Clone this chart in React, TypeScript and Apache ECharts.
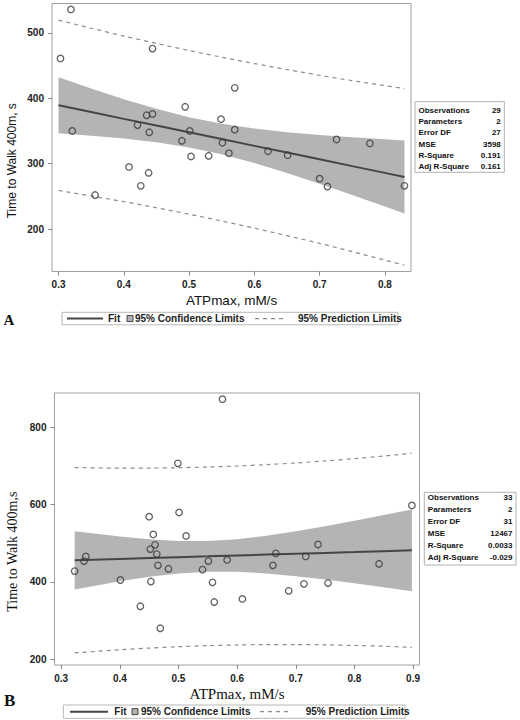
import React, { useEffect, useRef } from "react";
import * as echarts from "echarts";

// ---------- Panel A data ----------
const xTicksA = [0.3, 0.4, 0.5, 0.6, 0.7, 0.8];
const yTicksA = [200, 300, 400, 500];
const atpA = [0.319, 0.303, 0.444, 0.321, 0.421, 0.435, 0.444, 0.439, 0.494, 0.501, 0.489, 0.503, 0.53, 0.549, 0.551, 0.561, 0.57, 0.57, 0.408, 0.438, 0.426, 0.356, 0.726, 0.777, 0.621, 0.651, 0.7, 0.712, 0.83];
const walkA = [536, 461, 476, 350, 359, 374, 376, 348, 387, 350, 335, 311, 312, 368, 332, 316, 416, 352, 295, 286, 266, 252, 337, 331, 319, 313, 277, 265, 266];
const bandXA = [0.3, 0.35, 0.4, 0.45, 0.5, 0.55, 0.6, 0.65, 0.7, 0.75, 0.8, 0.83];
const fitA = [389.2, 378.9, 368.5, 358.2, 347.9, 337.6, 327.2, 316.9, 306.6, 296.2, 285.9, 279.7];
const clUpA = [432.0, 415.0, 398.7, 383.8, 371.0, 361.0, 353.6, 348.2, 344.0, 340.4, 337.3, 335.5];
const clLoA = [346.4, 342.8, 338.3, 332.6, 324.8, 314.2, 300.8, 285.6, 269.2, 252.0, 234.5, 223.9];
const plUpA = [519.5, 507.2, 495.2, 483.9, 473.1, 462.9, 453.1, 443.9, 435.2, 427.0, 419.3, 414.9];
const plLoA = [258.9, 250.6, 241.8, 232.5, 222.7, 212.3, 201.3, 189.9, 178.0, 165.4, 152.5, 144.5];
const statLabelsA = ["Observations", "Parameters", "Error DF", "MSE", "R-Square", "Adj R-Square"];
const statValuesA = ["29", "2", "27", "3598", "0.191", "0.161"];

// ---------- Panel B data ----------
const xTicksB = [0.3, 0.4, 0.5, 0.6, 0.7, 0.8, 0.9];
const yTicksB = [200, 400, 600, 800];
const atpB = [0.575, 0.499, 0.45, 0.501, 0.457, 0.513, 0.46, 0.452, 0.463, 0.342, 0.339, 0.323, 0.465, 0.483, 0.541, 0.551, 0.583, 0.401, 0.453, 0.558, 0.561, 0.609, 0.435, 0.469, 0.898, 0.738, 0.666, 0.717, 0.661, 0.842, 0.714, 0.755, 0.688];
const walkB = [873, 707, 569, 580, 523, 519, 496, 485, 472, 466, 454, 428, 443, 434, 432, 454, 457, 405, 401, 399, 348, 356, 337, 280, 598, 497, 474, 466, 443, 447, 395, 397, 377];
const bandXB = [0.323, 0.4, 0.45, 0.5, 0.55, 0.6, 0.65, 0.7, 0.75, 0.8, 0.85, 0.898];
const fitB = [456.1, 459.5, 461.8, 464.0, 466.2, 468.5, 470.7, 472.9, 475.2, 477.4, 479.7, 481.8];
const clUpB = [531.5, 517.5, 510.4, 506.1, 505.8, 510.6, 519.3, 530.9, 544.1, 558.3, 573.1, 587.7];
const clLoB = [380.7, 401.5, 413.2, 421.9, 426.6, 426.4, 422.1, 414.9, 406.3, 396.5, 386.3, 375.9];
const plUpB = [696.0, 694.5, 694.7, 695.6, 697.4, 700.1, 703.6, 707.9, 713.2, 719.1, 725.9, 733.0];
const plLoB = [216.2, 224.5, 228.9, 232.4, 235.0, 236.9, 237.8, 237.9, 237.2, 235.7, 233.5, 230.6];
const statLabelsB = ["Observations", "Parameters", "Error DF", "MSE", "R-Square", "Adj R-Square"];
const statValuesB = ["33", "2", "31", "12467", "0.0033", "-0.029"];

const legendLabels = ["Fit", "95% Confidence Limits", "95% Prediction Limits"];

const SANS = "Liberation Sans, Arial, Helvetica, sans-serif";
const SERIF = "Liberation Serif, Times New Roman, serif";
const BAND = "#b4b4b4";
const FIT = "#454545";
const PL = "#8c8c8c";

function pairs(xs: number[], ys: number[]) {
  return xs.map((x, i) => [x, ys[i]]);
}

function App() {
  const ref = useRef<HTMLDivElement>(null);

  useEffect(() => {
    if (!ref.current) return;
    const chart = echarts.init(ref.current, null, { renderer: "svg" });

    const xAxisBase = (gridIndex: number, min: number, max: number, ticks: number[], name: string, serif: boolean, nameGap: number) => ({
      type: "value",
      gridIndex,
      min,
      max,
      name,
      nameLocation: "middle",
      nameGap,
      nameTextStyle: { fontFamily: serif ? SERIF : SANS, fontSize: serif ? 15 : 13.5, color: "#111" },
      axisLine: { show: false },
      axisTick: { show: true, length: 4, inside: false, customValues: ticks, lineStyle: { color: "#888" } },
      axisLabel: { customValues: ticks, margin: 8, fontFamily: SANS, fontWeight: "bold", fontSize: 10, color: "#222", formatter: (v: number) => v.toFixed(1) },
      splitLine: { show: false },
    });
    const yAxisBase = (gridIndex: number, min: number, max: number, ticks: number[]) => ({
      type: "value",
      gridIndex,
      min,
      max,
      axisLine: { show: false },
      axisTick: { show: true, length: 4, inside: false, customValues: ticks, lineStyle: { color: "#888" } },
      axisLabel: { customValues: ticks, margin: 8, fontFamily: SANS, fontWeight: "bold", fontSize: 10, color: "#222" },
      splitLine: { show: false },
    });

    const bandSeries = (idx: number, xs: number[], lo: number[], up: number[]) => ({
      type: "custom",
      xAxisIndex: idx,
      yAxisIndex: idx,
      data: [[xs[0], lo[0]]],
      encode: { x: 0, y: 1 },
      silent: true,
      z: 1,
      renderItem: (_params: any, api: any) => {
        const pts: number[][] = [];
        for (let i = 0; i < xs.length; i++) pts.push(api.coord([xs[i], up[i]]));
        for (let i = xs.length - 1; i >= 0; i--) pts.push(api.coord([xs[i], lo[i]]));
        return { type: "polygon", shape: { points: pts }, style: { fill: BAND, stroke: "none" } };
      },
    });
    const dashed = (idx: number, xs: number[], ys: number[]) => ({
      type: "line",
      xAxisIndex: idx,
      yAxisIndex: idx,
      data: pairs(xs, ys),
      symbol: "none",
      smooth: 0.3,
      lineStyle: { color: PL, width: 1.2, type: [4, 4] },
      z: 2,
    });
    const fitLine = (idx: number, xs: number[], ys: number[]) => ({
      type: "line",
      xAxisIndex: idx,
      yAxisIndex: idx,
      data: pairs(xs, ys),
      symbol: "none",
      lineStyle: { color: FIT, width: 2 },
      z: 3,
    });
    const scatter = (idx: number, xs: number[], ys: number[]) => ({
      type: "scatter",
      xAxisIndex: idx,
      yAxisIndex: idx,
      data: pairs(xs, ys),
      symbol: "circle",
      symbolSize: 6.5,
      itemStyle: { color: "rgba(0,0,0,0)", borderColor: "#3a3a3a", borderWidth: 1.3 },
      z: 4,
    });

    const statBox = (x0: number, y0: number, w: number, h: number, y1: number, step: number, labels: string[], values: string[]) => {
      const els: any[] = [
        { type: "rect", shape: { x: x0, y: y0, width: w, height: h }, style: { fill: "#fff", stroke: "#b0b0b0", lineWidth: 1 } },
      ];
      labels.forEach((l, i) => {
        els.push({ type: "text", x: x0 + 3.5, y: y1 + i * step, style: { text: l, fontFamily: SANS, fontWeight: "bold", fontSize: 8, fill: "#111", verticalAlign: "middle", align: "left" } });
        els.push({ type: "text", x: x0 + w - 3.5, y: y1 + i * step, style: { text: values[i], fontFamily: SANS, fontWeight: "bold", fontSize: 8, fill: "#111", verticalAlign: "middle", align: "right" } });
      });
      return els;
    };

    const legendBox = (x0: number, x1: number, y0: number, h: number, p: number[]) => {
      const cy = y0 + h / 2;
      const ts = { fontFamily: SANS, fontWeight: "bold", fontSize: 10, fill: "#222", verticalAlign: "middle", align: "left" };
      return [
        { type: "rect", shape: { x: x0, y: y0, width: x1 - x0, height: h }, style: { fill: "#fff", stroke: "#b8b8b8", lineWidth: 1 } },
        { type: "line", shape: { x1: p[0], y1: cy, x2: p[1], y2: cy }, style: { stroke: FIT, lineWidth: 2 } },
        { type: "text", x: p[2], y: cy, style: { ...ts, text: legendLabels[0] } },
        { type: "rect", shape: { x: p[3], y: cy - 3, width: 6, height: 6 }, style: { fill: BAND, stroke: "#444", lineWidth: 1 } },
        { type: "text", x: p[4], y: cy, style: { ...ts, text: legendLabels[1] } },
        { type: "line", shape: { x1: p[5], y1: cy, x2: p[6], y2: cy }, style: { stroke: PL, lineWidth: 1.2, lineDash: [4, 4] } },
        { type: "text", x: p[7], y: cy, style: { ...ts, text: legendLabels[2] } },
      ];
    };

    const option: any = {
      animation: false,
      backgroundColor: "#fff",
      grid: [
        { left: 52, top: 3.5, width: 359, height: 268, show: true, borderColor: "#a0a0a0", borderWidth: 1, backgroundColor: "transparent", containLabel: false },
        { left: 54.5, top: 393, width: 365, height: 272, show: true, borderColor: "#a0a0a0", borderWidth: 1, backgroundColor: "transparent", containLabel: false },
      ],
      xAxis: [
        xAxisBase(0, 0.29, 0.84, xTicksA, "ATPmax, mM/s", false, 22),
        xAxisBase(1, 0.2886, 0.911, xTicksB, "ATPmax, mM/s", true, 21),
      ],
      yAxis: [yAxisBase(0, 135, 545, yTicksA), yAxisBase(1, 185, 889, yTicksB)],
      series: [
        bandSeries(0, bandXA, clLoA, clUpA),
        dashed(0, bandXA, plUpA),
        dashed(0, bandXA, plLoA),
        fitLine(0, bandXA, fitA),
        scatter(0, atpA, walkA),
        bandSeries(1, bandXB, clLoB, clUpB),
        dashed(1, bandXB, plUpB),
        dashed(1, bandXB, plLoB),
        fitLine(1, bandXB, fitB),
        scatter(1, atpB, walkB),
      ],
      graphic: [
        ...statBox(415, 101.7, 89.3, 70.6, 110, 11.35, statLabelsA, statValuesA),
        ...statBox(424.3, 492.3, 91.7, 72.7, 497.8, 11.9, statLabelsB, statValuesB),
        ...legendBox(62, 398, 312.3, 12.5, [67, 103, 108, 127, 135, 255, 287, 298]),
        ...legendBox(63.3, 405, 705, 13.3, [70, 108, 114.3, 132, 141, 260, 288, 305.7]),
        { type: "text", x: 12, y: 160.7, rotation: Math.PI / 2, style: { text: "Time to Walk 400m, s", fontFamily: SANS, fontSize: 12, fill: "#111", align: "center", verticalAlign: "middle" } },
        { type: "text", x: 12.5, y: 551.7, rotation: Math.PI / 2, style: { text: "Time to Walk 400m,s", fontFamily: SERIF, fontSize: 14, fill: "#111", align: "center", verticalAlign: "middle" } },
        { type: "text", x: 3.5, y: 320, style: { text: "A", fontFamily: SERIF, fontWeight: "bold", fontSize: 15, fill: "#111", verticalAlign: "middle" } },
        { type: "text", x: 4, y: 700, style: { text: "B", fontFamily: SERIF, fontWeight: "bold", fontSize: 17, fill: "#111", verticalAlign: "middle" } },
      ],
    };

    chart.setOption(option);
    return () => chart.dispose();
  }, []);

  return <div ref={ref} style={{ position: "fixed", left: 0, top: 0, width: 520, height: 720 }} />;
}

export default App;
